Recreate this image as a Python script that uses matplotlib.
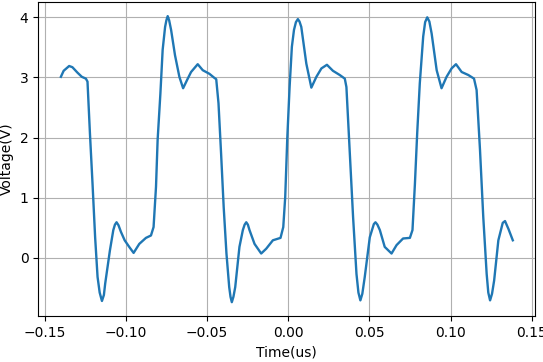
import matplotlib
matplotlib.use("Agg")
import matplotlib.pyplot as plt

time_us = [
    -0.1401, -0.1384, -0.1350, -0.1330, -0.1299, -0.1272, -0.1247, -0.1237,
    -0.1222, -0.1206, -0.1190, -0.1175, -0.1162, -0.1148, -0.1136, -0.1128,
    -0.1099, -0.1078, -0.1068, -0.1058, -0.1046, -0.1031, -0.1008, -0.0980,
    -0.0953, -0.0918, -0.0877, -0.0846, -0.0830, -0.0815, -0.0805, -0.0788,
    -0.0774, -0.0759, -0.0751, -0.0743, -0.0734, -0.0722, -0.0698, -0.0671,
    -0.0648, -0.0623, -0.0599, -0.0558, -0.0527, -0.0486, -0.0459, -0.0444,
    -0.0430, -0.0414, -0.0398, -0.0381, -0.0364, -0.0356, -0.0348, -0.0338,
    -0.0327, -0.0301, -0.0280, -0.0269, -0.0259, -0.0249, -0.0239, -0.0208,
    -0.0167, -0.0136, -0.0095, -0.0048, -0.0031, -0.0019, -0.0006, 0.0008,
    0.0022, 0.0035, 0.0047, 0.0059, 0.0069, 0.0080, 0.0111, 0.0142,
    0.0173, 0.0204, 0.0238, 0.0275, 0.0317, 0.0348, 0.0358, 0.0378,
    0.0399, 0.0420, 0.0432, 0.0444, 0.0456, 0.0471, 0.0502, 0.0527,
    0.0537, 0.0549, 0.0564, 0.0594, 0.0636, 0.0667, 0.0707, 0.0749,
    0.0765, 0.0780, 0.0794, 0.0810, 0.0831, 0.0843, 0.0856, 0.0869,
    0.0883, 0.0914, 0.0944, 0.0975, 0.1006, 0.1033, 0.1068, 0.1109,
    0.1144, 0.1160, 0.1181, 0.1201, 0.1222, 0.1232, 0.1243, 0.1255,
    0.1268, 0.1294, 0.1321, 0.1335, 0.1356, 0.1383,
]
voltage_v = [
    3.01, 3.11, 3.19, 3.17, 3.08, 3.01, 2.98, 2.93,
    2.07, 1.23, 0.34, -0.32, -0.58, -0.72, -0.62, -0.43,
    0.12, 0.46, 0.55, 0.59, 0.54, 0.43, 0.29, 0.18,
    0.08, 0.23, 0.33, 0.37, 0.51, 1.18, 1.96, 2.73,
    3.46, 3.84, 3.95, 4.02, 3.95, 3.79, 3.37, 3.01,
    2.82, 2.96, 3.09, 3.22, 3.12, 3.06, 3.00, 2.97,
    2.57, 1.73, 0.84, 0.07, -0.49, -0.65, -0.74, -0.65,
    -0.49, 0.18, 0.46, 0.55, 0.59, 0.55, 0.46, 0.23,
    0.07, 0.15, 0.29, 0.33, 0.51, 1.01, 2.01, 2.84,
    3.51, 3.79, 3.92, 3.97, 3.93, 3.84, 3.23, 2.83,
    3.01, 3.15, 3.21, 3.11, 3.04, 2.98, 2.84, 1.79,
    0.68, -0.27, -0.58, -0.71, -0.60, -0.32, 0.34, 0.56,
    0.59, 0.55, 0.46, 0.18, 0.07, 0.21, 0.32, 0.33,
    0.46, 1.23, 2.07, 2.90, 3.68, 3.92, 4.00, 3.93,
    3.73, 3.12, 2.82, 3.01, 3.15, 3.22, 3.09, 3.04,
    2.98, 2.79, 1.79, 0.68, -0.27, -0.58, -0.71, -0.60,
    -0.38, 0.29, 0.58, 0.61, 0.48, 0.29,
]

fig = plt.figure(figsize=(5.43, 3.62), dpi=100)
ax = fig.add_subplot(111)
ax.plot(time_us, voltage_v, color="#1f77b4", linewidth=1.7)
ax.set_xlabel("Time(us)")
ax.set_ylabel("Voltage(V)")
ax.grid(True)
fig.subplots_adjust(left=0.0705, right=0.986, top=0.995, bottom=0.1257)
fig.savefig("out.png", dpi=100)
